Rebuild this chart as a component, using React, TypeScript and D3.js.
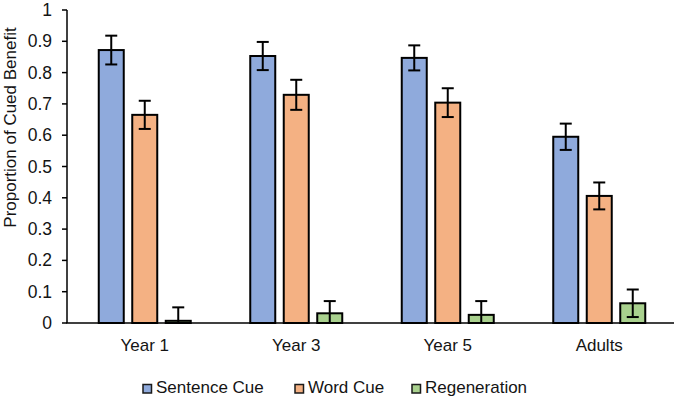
import React from "react";
import * as d3 from "d3";

const categories = ["Year 1", "Year 3", "Year 5", "Adults"];
const seriesNames = ["Sentence Cue", "Word Cue", "Regeneration"];
const sentenceCue = [0.872, 0.853, 0.847, 0.595];
const wordCue = [0.665, 0.729, 0.704, 0.406];
const regeneration = [0.007, 0.031, 0.026, 0.063];
const sentenceErr = [0.046, 0.045, 0.04, 0.042];
const wordErr = [0.045, 0.048, 0.046, 0.043];
const regenErr = [0.043, 0.039, 0.044, 0.044];
const yTicks = [0, 0.1, 0.2, 0.3, 0.4, 0.5, 0.6, 0.7, 0.8, 0.9, 1];
const colors = ["#8FAADC", "#F4B183", "#A9D18E"];

const W = 677;
const H = 400;
const FONT = "'Liberation Sans', Arial, sans-serif";
const TXT = "#141414";

export default function App() {
  const values = [sentenceCue, wordCue, regeneration];
  const errs = [sentenceErr, wordErr, regenErr];
  const y = d3.scaleLinear().domain([0, 1]).range([323, 10]);
  const x0 = d3.scaleBand<string>().domain(categories).range([69, 675]).padding(0);
  const groupW = 92;
  const x1 = d3
    .scaleBand<string>()
    .domain(seriesNames)
    .range([0, groupW])
    .paddingInner(0.2537)
    .paddingOuter(0);
  const legendX = [143, 295, 412];

  return (
    <svg
      width={W}
      height={H}
      style={{ position: "absolute", left: 0, top: 0, background: "#fff" }}
      fontFamily={FONT}
    >
      <rect x={0} y={0} width={W} height={H} fill="#fff" />
      {categories.map((c, ci) => {
        const gx = (x0(c) as number) + x0.bandwidth() / 2 - groupW / 2;
        return (
          <g key={c}>
            {seriesNames.map((s, si) => {
              const v = values[si][ci];
              const e = errs[si][ci];
              const bx = gx + (x1(s) as number);
              const bw = x1.bandwidth();
              const cx = bx + bw / 2;
              const top = y(v);
              const eHi = y(v + e);
              const eLo = y(Math.max(0, v - e));
              return (
                <g key={s}>
                  <rect
                    x={bx}
                    y={top}
                    width={bw}
                    height={y(0) - top}
                    fill={colors[si]}
                    stroke="#000"
                    strokeWidth={2}
                  />
                  <line x1={cx} x2={cx} y1={eHi} y2={eLo} stroke="#000" strokeWidth={2} />
                  <line x1={cx - 6} x2={cx + 6} y1={eHi} y2={eHi} stroke="#000" strokeWidth={2} />
                  <line x1={cx - 6} x2={cx + 6} y1={eLo} y2={eLo} stroke="#000" strokeWidth={2} />
                </g>
              );
            })}
          </g>
        );
      })}
      <line x1={67} x2={67} y1={y(1)} y2={y(0)} stroke="#000" strokeWidth={1.5} />
      <line x1={66.25} x2={674} y1={y(0)} y2={y(0)} stroke="#000" strokeWidth={1.5} />
      {yTicks.map((t) => (
        <g key={t}>
          <line x1={62} x2={67} y1={y(t)} y2={y(t)} stroke="#000" strokeWidth={1.5} />
          <text
            x={52}
            y={y(t)}
            textAnchor="end"
            dominantBaseline="central"
            fontSize={17.5}
            fill={TXT}
          >
            {t === 0 ? "0" : t === 1 ? "1" : d3.format(".1f")(t)}
          </text>
        </g>
      ))}
      {categories.map((c) => (
        <text
          key={c}
          x={(x0(c) as number) + x0.bandwidth() / 2}
          y={351}
          textAnchor="middle"
          fontSize={17}
          fill={TXT}
        >
          {c}
        </text>
      ))}
      <text
        transform={`translate(16, ${127.5}) rotate(-90)`}
        textAnchor="middle"
        fontSize={17}
        fill={TXT}
      >
        Proportion of Cued Benefit
      </text>
      {seriesNames.map((s, si) => (
        <g key={s}>
          <rect
            x={legendX[si]}
            y={384.5}
            width={8.5}
            height={8.5}
            fill={colors[si]}
            stroke="#1a1a1a"
            strokeWidth={1.5}
          />
          <text x={legendX[si] + 13} y={392.5} fontSize={17} fill={TXT}>
            {s}
          </text>
        </g>
      ))}
    </svg>
  );
}
